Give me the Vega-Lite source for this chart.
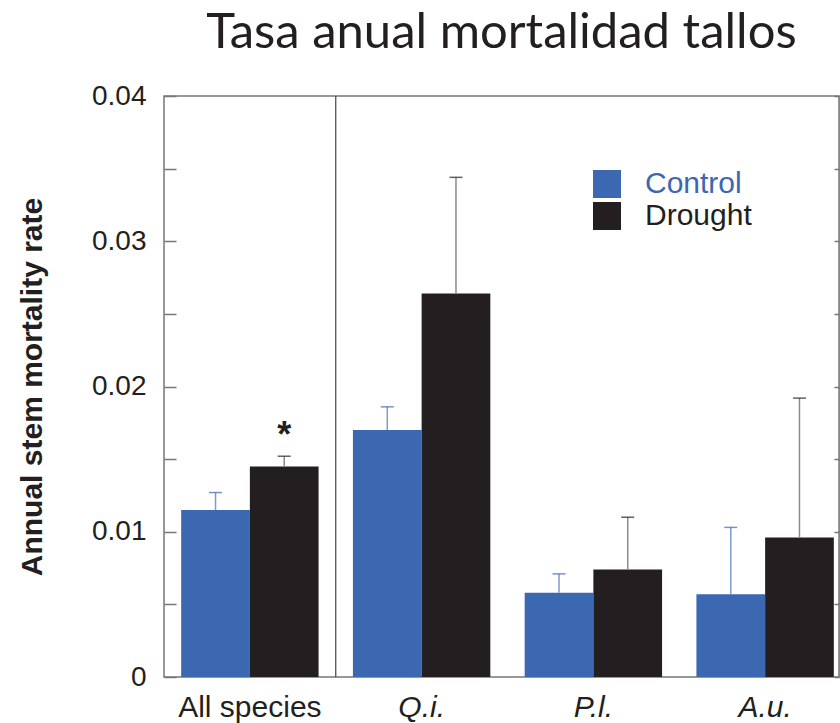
{
  "$schema": "https://vega.github.io/schema/vega-lite/v6.json",
  "autosize": "none",
  "padding": {"left": 164, "top": 96, "right": 1, "bottom": 46},
  "width": 675,
  "height": 581,
  "background": "white",
  "title": {
    "text": "Tasa anual mortalidad tallos",
    "font": "Lato",
    "fontSize": 49,
    "fontWeight": "normal",
    "color": "#231f20",
    "anchor": "middle",
    "offset": 24
  },
  "config": {
    "view": {"stroke": "#777", "strokeWidth": 1.5},
    "font": "Liberation Sans"
  },
  "datasets": {
    "bars": [
      {"group": "All species", "treatment": "Control", "value": 0.0115, "upper": 0.0127, "sig": ""},
      {"group": "All species", "treatment": "Drought", "value": 0.0145, "upper": 0.0152, "sig": "*"},
      {"group": "Q.i.", "treatment": "Control", "value": 0.0170, "upper": 0.0186, "sig": ""},
      {"group": "Q.i.", "treatment": "Drought", "value": 0.0264, "upper": 0.0344, "sig": ""},
      {"group": "P.l.", "treatment": "Control", "value": 0.0058, "upper": 0.0071, "sig": ""},
      {"group": "P.l.", "treatment": "Drought", "value": 0.0074, "upper": 0.0110, "sig": ""},
      {"group": "A.u.", "treatment": "Control", "value": 0.0057, "upper": 0.0103, "sig": ""},
      {"group": "A.u.", "treatment": "Drought", "value": 0.0096, "upper": 0.0192, "sig": ""}
    ],
    "sep": [{"group": "Q.i."}]
  },
  "data": {"name": "bars"},
  "encoding": {
    "x": {
      "field": "group",
      "type": "nominal",
      "sort": ["All species", "Q.i.", "P.l.", "A.u."],
      "scale": {"domain": ["All species", "Q.i.", "P.l.", "A.u."], "range": [0, 687], "paddingInner": 0, "paddingOuter": 0},
      "axis": {
        "title": null,
        "ticks": false,
        "domain": false,
        "labelAngle": 0,
        "labelFontSize": 30,
        "labelColor": "#231f20",
        "labelPadding": 15,
        "labelFontStyle": {"condition": {"test": "datum.value !== 'All species'", "value": "italic"}, "value": "normal"}
      }
    }
  },
  "layer": [
    {
      "mark": {"type": "bar"},
      "encoding": {
        "xOffset": {"field": "treatment", "type": "nominal", "scale": {"paddingInner": 0, "paddingOuter": 0.25}},
        "y": {
          "field": "value",
          "type": "quantitative",
          "scale": {"domain": [0, 0.04], "nice": false, "zero": true},
          "axis": {
            "orient": "left",
            "title": "Annual stem mortality rate",
            "titleFontSize": 30,
            "titleFontWeight": "bold",
            "titleColor": "#231f20",
            "titlePadding": 44,
            "values": [0, 0.005, 0.01, 0.015, 0.02, 0.025, 0.03, 0.035, 0.04],
            "labelExpr": "round(datum.value*1000) % 10 == 0 ? (datum.value == 0 ? '0' : format(datum.value, '.2f')) : ''",
            "labelFontSize": 28,
            "labelColor": "#231f20",
            "labelPadding": 30,
            "tickSize": -12,
            "tickColor": "#777",
            "tickWidth": 1.5,
            "domain": false,
            "grid": false
          }
        },
        "color": {
          "field": "treatment",
          "type": "nominal",
          "scale": {"domain": ["Control", "Drought"], "range": ["#3c67b1", "#231f20"]},
          "legend": {
            "title": null,
            "orient": "none",
            "legendX": 428,
            "legendY": 73,
            "padding": 0,
            "symbolType": "square",
            "symbolSize": 784,
            "symbolStrokeWidth": 0,
            "labelFontSize": 30,
            "labelOffset": 23,
            "rowPadding": 2,
            "labelLimit": 300,
            "encode": {
              "labels": {"update": {"fill": {"signal": "datum.value === 'Control' ? '#3c67b1' : '#231f20'"}}}
            }
          }
        }
      }
    },
    {
      "mark": {"type": "rule", "strokeWidth": 1.5},
      "encoding": {
        "xOffset": {"field": "treatment", "type": "nominal", "scale": {"paddingInner": 0, "paddingOuter": 0.25}},
        "y": {"field": "value", "type": "quantitative"},
        "y2": {"field": "upper"},
        "stroke": {
          "field": "treatment",
          "type": "nominal",
          "scale": {"domain": ["Control", "Drought"], "range": ["#7d9bd3", "#8a8a8a"]},
          "legend": null
        }
      }
    },
    {
      "mark": {"type": "tick", "thickness": 1.5, "size": 13},
      "encoding": {
        "xOffset": {"field": "treatment", "type": "nominal", "scale": {"paddingInner": 0, "paddingOuter": 0.25}},
        "y": {"field": "upper", "type": "quantitative"},
        "color": {
          "field": "treatment",
          "type": "nominal",
          "scale": {"domain": ["Control", "Drought"], "range": ["#3c67b1", "#231f20"]},
          "legend": null
        }
      }
    },
    {
      "mark": {"type": "text", "fontSize": 36, "fontWeight": "bold", "baseline": "alphabetic", "dy": -9, "color": "#231f20"},
      "encoding": {
        "xOffset": {"field": "treatment", "type": "nominal", "scale": {"paddingInner": 0, "paddingOuter": 0.25}},
        "y": {"field": "upper", "type": "quantitative"},
        "text": {"field": "sig"}
      }
    },
    {
      "data": {"name": "sep"},
      "mark": {"type": "rule", "color": "#444", "strokeWidth": 1.2},
      "encoding": {
        "x": {"field": "group", "type": "nominal", "bandPosition": 0}
      }
    },
    {
      "mark": {"type": "point", "opacity": 0},
      "encoding": {
        "y": {
          "field": "value",
          "type": "quantitative",
          "axis": {
            "orient": "right",
            "title": null,
            "labels": false,
            "values": [0, 0.005, 0.01, 0.015, 0.02, 0.025, 0.03, 0.035, 0.04],
            "tickSize": -5,
            "tickColor": "#777",
            "tickWidth": 1.5,
            "domain": false,
            "grid": false
          }
        }
      }
    }
  ],
  "resolve": {"axis": {"y": "independent"}}
}
